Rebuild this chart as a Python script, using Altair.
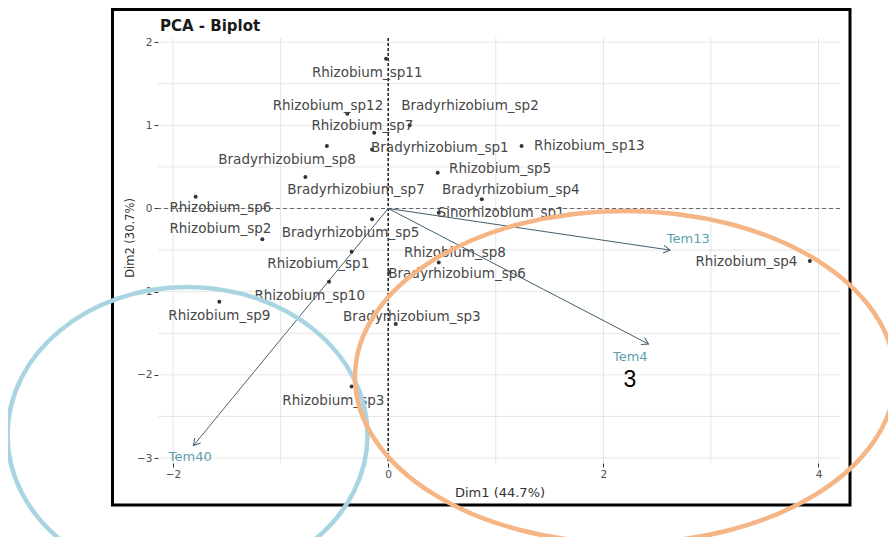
import math
import altair as alt
import pandas as pd

# ---------------- data ----------------
species = ["Rhizobium_sp11", "Rhizobium_sp12", "Bradyrhizobium_sp2", "Rhizobium_sp7",
           "Bradyrhizobium_sp8", "Bradyrhizobium_sp1", "Rhizobium_sp13", "Rhizobium_sp5",
           "Bradyrhizobium_sp7", "Bradyrhizobium_sp4", "Rhizobium_sp6", "Rhizobium_sp2",
           "Bradyrhizobium_sp5", "Sinorhizobium_sp1", "Rhizobium_sp1", "Rhizobium_sp8",
           "Bradyrhizobium_sp6", "Rhizobium_sp4", "Rhizobium_sp10", "Rhizobium_sp9",
           "Bradyrhizobium_sp3", "Rhizobium_sp3"]
dim1 = [-0.02, -0.38, 0.20, -0.13, -0.57, -0.15, 1.24, 0.46, -0.77, 0.87, -1.79, -1.17,
        -0.15, 0.47, -0.34, 0.47, 0.01, 3.92, -0.55, -1.57, 0.07, -0.34]
dim2 = [1.80, 1.14, 1.00, 0.91, 0.75, 0.71, 0.75, 0.43, 0.38, 0.11, 0.14, -0.37,
        -0.13, -0.05, -0.52, -0.65, -0.77, -0.63, -0.88, -1.12, -1.39, -2.14]
label_dim1 = [-0.195, -0.56, 0.76, -0.24, -0.94, 0.48, 1.87, 1.04, -0.30, 1.14, -1.56, -1.56,
              -0.35, 1.05, -0.65, 0.62, 0.64, 3.33, -0.73, -1.57, 0.22, -0.51]
label_dim2 = [1.63, 1.23, 1.23, 0.99, 0.58, 0.73, 0.75, 0.48, 0.22, 0.22, 0.0, -0.25,
              -0.29, -0.05, -0.67, -0.54, -0.79, -0.64, -1.05, -1.29, -1.30, -2.31]

variables = ["Tem13", "Tem4", "Tem40"]
var_dim1 = [2.62, 2.42, -1.81]
var_dim2 = [-0.50, -1.63, -2.85]
var_label_dim1 = [2.79, 2.25, -1.84]
var_label_dim2 = [-0.37, -1.79, -2.99]

x_ticks = [-2, 0, 2, 4]
y_ticks = [-3, -2, -1, 0, 1, 2]
x_grid = [-2, -1, 0, 1, 2, 3, 4]
y_grid = [-3, -2.5, -2, -1.5, -1, -0.5, 0, 0.5, 1, 1.5, 2]

title_text = "PCA - Biplot"
x_title = "Dim1 (44.7%)"
y_title = "Dim2 (30.7%)"
marker_text = "3"

# ---------------- layout ----------------
W, H = 682, 425
X_DOMAIN = [-2.14, 4.2]
Y_DOMAIN = [-3.06, 2.05]
sx = W / (X_DOMAIN[1] - X_DOMAIN[0])
sy = H / (Y_DOMAIN[1] - Y_DOMAIN[0])

xs = alt.Scale(domain=X_DOMAIN, nice=False, zero=False)
ys = alt.Scale(domain=Y_DOMAIN, nice=False, zero=False)

FONT = "DejaVu Sans"

ind = pd.DataFrame({"name": species, "x": dim1, "y": dim2,
                    "lx": label_dim1, "ly": label_dim2})
var = pd.DataFrame({"name": variables, "x": var_dim1, "y": var_dim2,
                    "lx": var_label_dim1, "ly": var_label_dim2})
var["x0"] = 0.0
var["y0"] = 0.0
var["angle"] = [(math.degrees(math.atan2(-b * sy, a * sx)) + 360) % 360
                for a, b in zip(var_dim1, var_dim2)]
one = pd.DataFrame({"k": [0]})

xaxis = alt.Axis(values=x_ticks, format="d", grid=False, domain=False, ticks=True, tickSize=4,
                 tickColor="#333333", labelColor="#4d4d4d", labelFontSize=10.5,
                 labelFont=FONT, labelPadding=2, title=None)
yaxis = alt.Axis(values=y_ticks, format="d", grid=False, domain=False, ticks=True, tickSize=4,
                 tickColor="#333333", labelColor="#4d4d4d", labelFontSize=10.5,
                 labelFont=FONT, labelPadding=2, title=None)

vgrid = alt.Chart(pd.DataFrame({"g": x_grid})).mark_rule(
    color="#e3e3e3", strokeWidth=0.9).encode(
    x=alt.X("g:Q", scale=xs, axis=xaxis))
hgrid = alt.Chart(pd.DataFrame({"g": y_grid})).mark_rule(
    color="#e3e3e3", strokeWidth=0.9).encode(
    y=alt.Y("g:Q", scale=ys, axis=yaxis))

zero_v = alt.Chart(pd.DataFrame({"g": [0]})).mark_rule(
    color="#111111", strokeWidth=1.4, strokeDash=[3, 2]).encode(
    x=alt.X("g:Q", scale=xs))
zero_h = alt.Chart(pd.DataFrame({"g": [0]})).mark_rule(
    color="#666666", strokeWidth=1, strokeDash=[4, 3]).encode(
    y=alt.Y("g:Q", scale=ys))

arrows = alt.Chart(var).mark_rule(color="#44606b", strokeWidth=1).encode(
    x=alt.X("x0:Q", scale=xs), y=alt.Y("y0:Q", scale=ys),
    x2="x:Q", y2="y:Q")
heads = alt.Chart(var).mark_point(
    shape="M -1 -0.6 L 0 0 L -1 0.6", filled=False, size=170,
    color="#44606b", strokeWidth=1, opacity=1).encode(
    x=alt.X("x:Q", scale=xs), y=alt.Y("y:Q", scale=ys),
    angle=alt.Angle("angle:Q", scale=None))
var_labels = alt.Chart(var).mark_text(
    font=FONT, fontSize=13, color="#5c9fb3", baseline="middle", align="center").encode(
    x=alt.X("lx:Q", scale=xs), y=alt.Y("ly:Q", scale=ys), text="name:N")

points = alt.Chart(ind).mark_circle(size=16, color="#333333", opacity=1).encode(
    x=alt.X("x:Q", scale=xs), y=alt.Y("y:Q", scale=ys))
labels = alt.Chart(ind).mark_text(
    font=FONT, fontSize=13.5, color="#474747", baseline="middle", align="center").encode(
    x=alt.X("lx:Q", scale=xs), y=alt.Y("ly:Q", scale=ys), text="name:N")

# page coordinates -> plot coordinates (plot origin at page (158, 38))
OX, OY = 158, 38

frame = alt.Chart(one).mark_rect(filled=False, stroke="black", strokeWidth=3).encode(
    x=alt.value(112.5 - OX), x2=alt.value(850 - OX),
    y=alt.value(9.5 - OY), y2=alt.value(505 - OY))

title = alt.Chart(one).mark_text(
    text=title_text, font=FONT, fontSize=15, fontWeight="bold", color="#1a1a1a",
    align="left", baseline="alphabetic").encode(
    x=alt.value(160 - OX), y=alt.value(31 - OY))
xt = alt.Chart(one).mark_text(
    text=x_title, font=FONT, fontSize=13, color="#333333",
    align="center", baseline="middle").encode(
    x=alt.value(500 - OX), y=alt.value(493 - OY))
yt = alt.Chart(one).mark_text(
    text=y_title, font=FONT, fontSize=11.5, color="#333333", angle=270,
    align="center", baseline="middle").encode(
    x=alt.value(131 - OX), y=alt.value(238 - OY))

blue_ell = alt.Chart(one).mark_point(
    shape="M -1 0 A 1 0.822 0 1 0 1 0 A 1 0.822 0 1 0 -1 0",
    filled=False, size=360 * 360, color="#a9d5e2", strokeWidth=4.5, opacity=1).encode(
    x=alt.value(187.5 - OX), y=alt.value(435 - OY))
orange_ell = alt.Chart(one).mark_point(
    shape="M -1 0 A 1 0.615 0 1 0 1 0 A 1 0.615 0 1 0 -1 0",
    filled=False, size=540 * 540, color="#f5b585", strokeWidth=4.5, opacity=1).encode(
    x=alt.value(625 - OX), y=alt.value(377 - OY))
three = alt.Chart(one).mark_text(
    text=marker_text, font="Liberation Sans", fontSize=23, color="#000000",
    align="center", baseline="middle").encode(
    x=alt.value(630 - OX), y=alt.value(380 - OY))

chart = alt.layer(
    vgrid, hgrid, zero_v, zero_h, arrows, heads, points, labels, var_labels,
    frame, title, xt, yt, blue_ell, orange_ell, three
).properties(
    width=W, height=H,
    padding={"left": 150, "top": 30, "right": 48, "bottom": 74},
    autosize=alt.AutoSizeParams(type="none"),
    background="white",
).configure_view(stroke=None)

chart.save("out.html", embed_options={"renderer": "svg", "actions": False})
